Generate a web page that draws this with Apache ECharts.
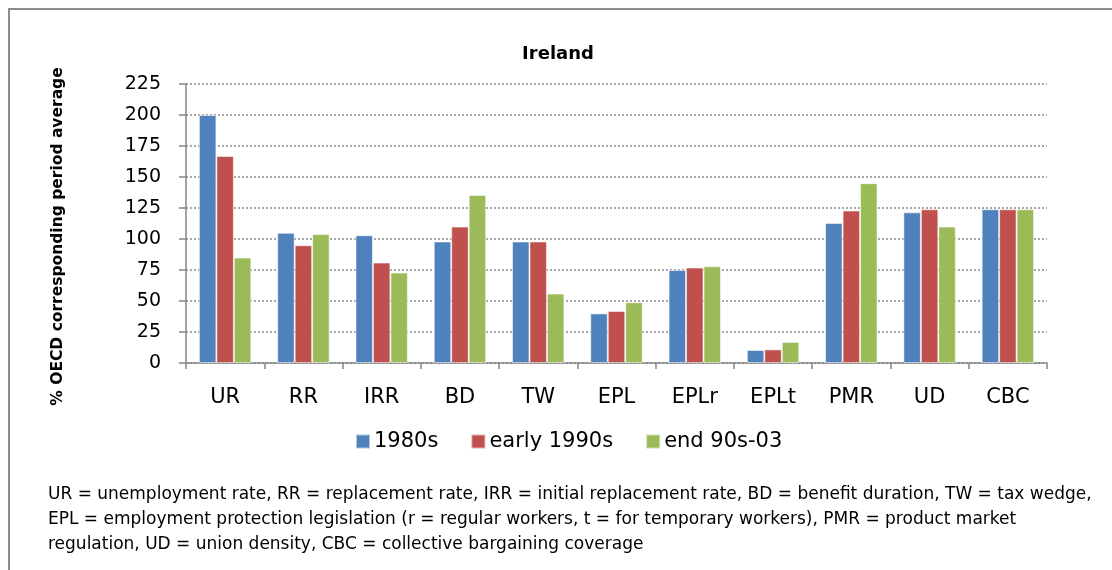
<!DOCTYPE html>
<html>
<head>
<meta charset="utf-8">
<script src="https://cdn.jsdelivr.net/npm/echarts@6/dist/echarts.min.js"></script>
<style>
  html, body { margin: 0; padding: 0; background: #fff; }
  #main { width: 1112px; height: 570px; }
</style>
</head>
<body>
<div id="main"></div>
<script>
// data
var categories = ['UR', 'RR', 'IRR', 'BD', 'TW', 'EPL', 'EPLr', 'EPLt', 'PMR', 'UD', 'CBC'];
var s1980s = [200, 105, 103, 98, 98, 40, 75, 10.5, 113, 121.5, 124];
var early1990s = [167, 95, 81, 110, 98, 42, 77, 11, 123, 124, 124];
var end9003 = [85, 104, 73, 135.5, 56, 49, 78, 17, 145, 110, 124];
var yTicks = [0, 25, 50, 75, 100, 125, 150, 175, 200, 225];

var footnote = [
  'UR = unemployment rate, RR = replacement rate, IRR = initial replacement rate, BD = benefit duration, TW = tax wedge,',
  'EPL = employment protection legislation (r = regular workers, t = for temporary workers), PMR = product market',
  'regulation, UD = union density, CBC = collective bargaining coverage'
];

var chartDom = document.getElementById('main');
var myChart = echarts.init(chartDom);
var font = 'DejaVu Sans';
var axisGrey = '#868686';

function barSeries(name, data, color) {
  return {
    name: name,
    type: 'bar',
    barGap: '0%',
    barCategoryGap: '33%',
    itemStyle: {
      color: color,
      borderColor: 'rgba(255,255,255,0.55)',
      borderWidth: 1
    },
    data: data
  };
}

var option = {
  animation: false,
  textStyle: { fontFamily: font, color: '#000' },
  title: {
    text: 'Ireland',
    left: 553,
    textAlign: 'center',
    top: 40,
    textStyle: { fontFamily: font, fontSize: 18, fontWeight: 'bold', color: '#000' }
  },
  legend: {
    data: ['1980s', 'early 1990s', 'end 90s-03'],
    left: 350,
    top: 426,
    icon: 'rect',
    itemWidth: 14,
    itemHeight: 14,
    itemGap: 32,
    textStyle: { fontFamily: font, fontSize: 21, color: '#000', padding: [0, 0, 0, -1] }
  },
  grid: {
    left: 186,
    right: 65,
    top: 84,
    bottom: 207,
    containLabel: false
  },
  xAxis: {
    type: 'category',
    data: categories,
    axisLine: { lineStyle: { color: axisGrey, width: 1.5 } },
    axisTick: { show: true, length: 6, lineStyle: { color: axisGrey, width: 1.5 } },
    axisLabel: { fontFamily: font, fontSize: 21, color: '#000', margin: 24 }
  },
  yAxis: {
    type: 'value',
    min: yTicks[0],
    max: yTicks[yTicks.length - 1],
    interval: 25,
    name: '% OECD corresponding period average',
    nameLocation: 'middle',
    nameGap: 120,
    nameRotate: 90,
    nameTextStyle: {
      fontFamily: font, fontSize: 15.5, fontWeight: 'bold', color: '#000',
      padding: [0, 26, 0, 0]
    },
    axisLine: { show: true, lineStyle: { color: axisGrey, width: 1.5 } },
    axisTick: { show: true, length: 7, lineStyle: { color: axisGrey, width: 1.5 } },
    axisLabel: { fontFamily: font, fontSize: 19, color: '#000', margin: 25 },
    splitLine: { show: true, lineStyle: { color: '#8a8a8a', width: 1.5, type: [2, 2] } }
  },
  series: [
    barSeries('1980s', s1980s, '#4F81BD'),
    barSeries('early 1990s', early1990s, '#C0504D'),
    barSeries('end 90s-03', end9003, '#9BBB59')
  ],
  graphic: [
    {
      type: 'rect',
      shape: { x: 9, y: 9, width: 1200, height: 700 },
      style: { fill: 'none', stroke: '#8c8c8c', lineWidth: 2 },
      silent: true
    }
  ].concat(footnote.map(function (line, i) {
    return {
      type: 'text',
      left: 48,
      top: 486 + i * 25,
      style: { text: line, fontFamily: font, fontSize: 17, fill: '#000' }
    };
  }))
};

option && myChart.setOption(option);
</script>
</body>
</html>
